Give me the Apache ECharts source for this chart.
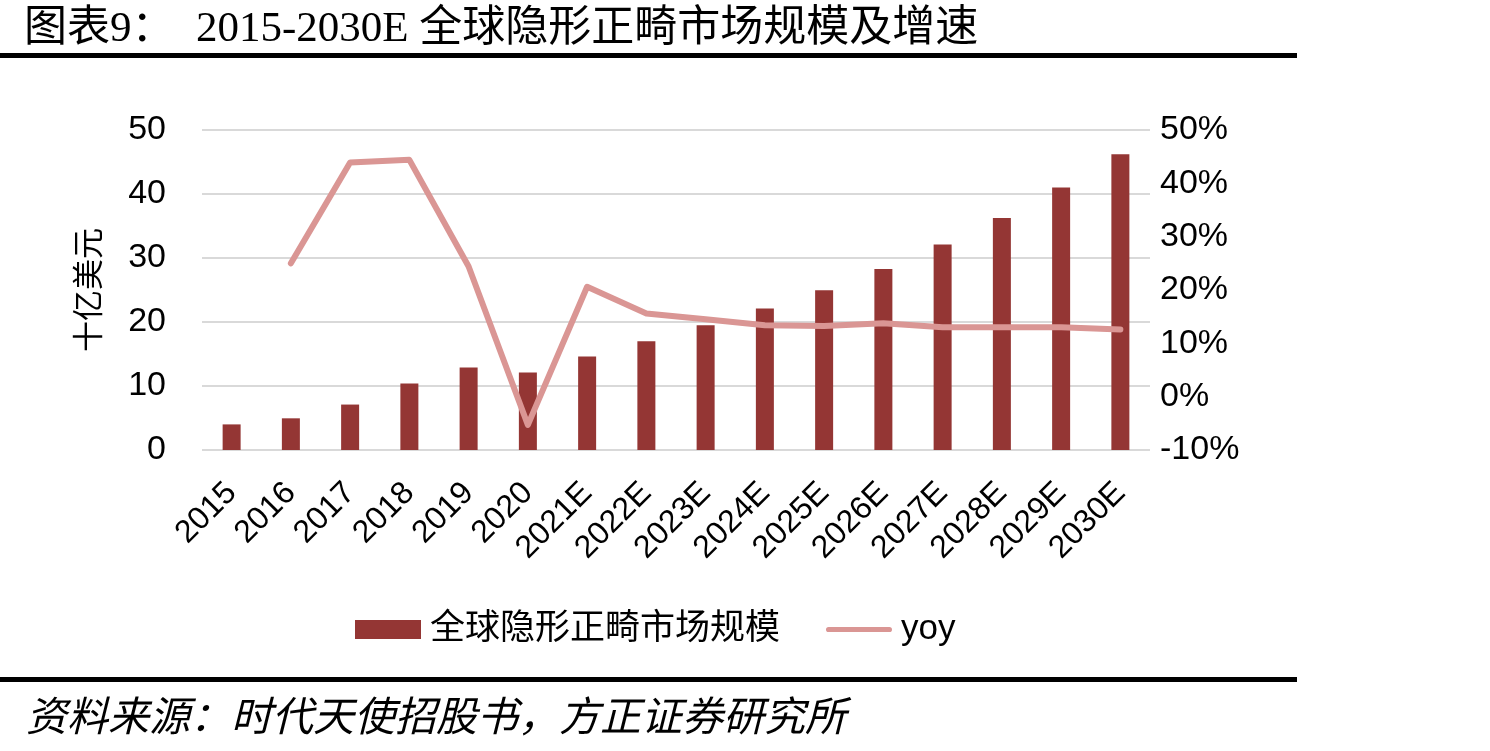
<!DOCTYPE html>
<html>
<head>
<meta charset="utf-8">
<script src="https://cdn.jsdelivr.net/npm/echarts@6/dist/echarts.min.js"></script>
<style>
	html, body { margin: 0; padding: 0; background: #fff; }
	#main { width: 1490px; height: 751px; }
</style>
</head>
<body>
<div id="main"></div>
<script>
// 年份
var years = ['2015', '2016', '2017', '2018', '2019', '2020', '2021E', '2022E', '2023E',
	'2024E', '2025E', '2026E', '2027E', '2028E', '2029E', '2030E'];
// 全球隐形正畸市场规模（十亿美元）
var marketSize = [4.0, 4.95, 7.1, 10.4, 12.9, 12.1, 14.6, 17.0, 19.5, 22.1, 24.95, 28.3, 32.1, 36.25, 41.0, 46.2];
// yoy（%）
var yoy = [null, 25.0, 43.9, 44.4, 24.4, -5.3, 20.6, 15.6, 14.5, 13.4, 13.25, 13.75, 13.0, 13.0, 13.0, 12.6];
var leftTicks = [0, 50, 10];
var rightTicks = [-10, 50, 10];

var titleText = '图表9：  2015-2030E 全球隐形正畸市场规模及增速';
var sourceText = '资料来源：时代天使招股书，方正证券研究所';

var serif = '"Liberation Serif", "Noto Sans CJK SC", serif';
var sans = '"Liberation Sans", Arial, "Noto Sans CJK SC", sans-serif';

var myChart = echarts.init(document.getElementById('main'));
myChart.setOption({
	animation: false,
	backgroundColor: '#fff',
	grid: { left: 202, right: 340, top: 130, bottom: 301 },
	legend: {
		left: 350,
		top: 607,
		itemWidth: 66,
		itemHeight: 19,
		itemGap: 46,
		textStyle: { fontSize: 35, color: '#000', fontFamily: serif, padding: [0, 0, 0, 4] },
		data: [{
			name: '全球隐形正畸市场规模',
			icon: 'rect'
		}, {
			name: 'yoy',
			icon: 'path://M3,0 L73,0 A3,3 0 0 1 73,6 L3,6 A3,3 0 0 1 3,0 Z',
			textStyle: { fontFamily: sans, fontSize: 35 }
		}]
	},
	xAxis: {
		type: 'category',
		data: years,
		axisLine: { show: false },
		axisTick: { show: false },
		axisLabel: {
			rotate: 45,
			interval: 0,
			margin: 38,
			fontSize: 32,
			color: '#000',
			fontFamily: sans
		}
	},
	yAxis: [{
		type: 'value',
		min: leftTicks[0],
		max: leftTicks[1],
		interval: leftTicks[2],
		name: '十亿美元',
		nameLocation: 'middle',
		nameRotate: 90,
		nameGap: 96,
		nameTextStyle: { fontSize: 31, color: '#000', fontFamily: serif },
		axisLine: { show: false },
		axisTick: { show: false },
		axisLabel: { fontSize: 34, color: '#000', margin: 36, fontFamily: sans },
		splitLine: { lineStyle: { color: '#d9d9d9', width: 2 } }
	}, {
		type: 'value',
		min: rightTicks[0],
		max: rightTicks[1],
		interval: rightTicks[2],
		axisLine: { show: false },
		axisTick: { show: false },
		axisLabel: { fontSize: 34, color: '#000', margin: 10, fontFamily: sans, formatter: '{value}%' },
		splitLine: { show: false }
	}],
	series: [{
		name: '全球隐形正畸市场规模',
		type: 'bar',
		data: marketSize,
		barWidth: 18,
		itemStyle: { color: '#943634' }
	}, {
		name: 'yoy',
		type: 'line',
		yAxisIndex: 1,
		data: yoy,
		symbol: 'none',
		itemStyle: { color: '#da9694' },
		lineStyle: { color: '#da9694', width: 6, cap: 'round', join: 'round' }
	}],
	graphic: [{
		type: 'text',
		left: 24,
		top: 8,
		style: { text: titleText, fontSize: 43, fill: '#000', fontFamily: serif }
	}, {
		type: 'rect',
		shape: { x: 0, y: 53, width: 1297, height: 5 },
		style: { fill: '#000' }
	}, {
		type: 'rect',
		shape: { x: 0, y: 677, width: 1297, height: 5 },
		style: { fill: '#000' }
	}, {
		type: 'text',
		left: 26,
		top: 700,
		style: { text: sourceText, fontSize: 41, fill: '#000', fontFamily: serif, fontStyle: 'italic' }
	}]
});
</script>
</body>
</html>
